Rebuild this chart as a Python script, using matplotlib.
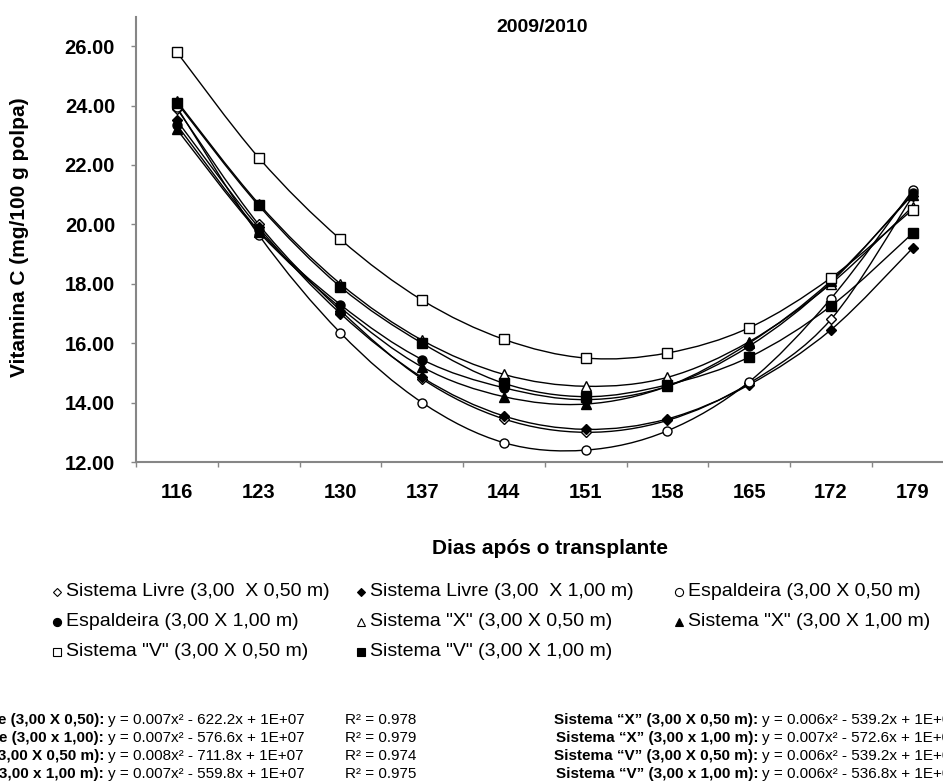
import matplotlib

matplotlib.use("Agg")
import matplotlib.pyplot as plt
import numpy as np
from matplotlib.lines import Line2D
from matplotlib.patches import PathPatch
from matplotlib.path import Path

plt.rcParams["font.family"] = ["Liberation Sans", "DejaVu Sans"]

W, H = 943, 784

# days after transplanting
DAYS = [116, 123, 130, 137, 144, 151, 158, 165, 172, 179]

# vitamin C (mg/100 g pulp) per training system
LIVRE_050 = [23.90, 20.00, 17.10, 14.80, 13.45, 13.00, 13.40, 14.65, 16.80, 20.95]
LIVRE_100 = [23.50, 19.90, 17.00, 14.85, 13.55, 13.10, 13.45, 14.60, 16.45, 19.20]
ESPALD_050 = [23.95, 19.65, 16.35, 14.00, 12.65, 12.40, 13.05, 14.70, 17.50, 21.15]
ESPALD_100 = [23.35, 19.80, 17.30, 15.45, 14.50, 14.10, 14.55, 15.90, 18.05, 21.05]
X_050 = [24.15, 20.70, 18.00, 16.10, 14.95, 14.55, 14.85, 16.05, 18.00, 20.60]
X_100 = [23.20, 19.75, 17.20, 15.20, 14.20, 13.95, 14.55, 16.00, 18.10, 21.00]
V_050 = [25.80, 22.25, 19.50, 17.45, 16.13, 15.50, 15.67, 16.52, 18.20, 20.50]
V_100 = [24.10, 20.64, 17.90, 16.00, 14.65, 14.20, 14.60, 15.53, 17.25, 19.70]

LABELS = [
    "Sistema Livre (3,00  X 0,50 m)",
    "Sistema Livre (3,00  X 1,00 m)",
    "Espaldeira (3,00 X 0,50 m)",
    "Espaldeira (3,00 X 1,00 m)",
    'Sistema "X" (3,00 X 0,50 m)',
    'Sistema "X" (3,00 X 1,00 m)',
    'Sistema "V" (3,00 X 0,50 m)',
    'Sistema "V" (3,00 X 1,00 m)',
]
VALUES = [LIVRE_050, LIVRE_100, ESPALD_050, ESPALD_100, X_050, X_100, V_050, V_100]

# marker, face colour, size
STYLES = [
    ("D", "white", 5.0),
    ("D", "black", 5.0),
    ("o", "white", 6.5),
    ("o", "black", 6.5),
    ("^", "white", 7.0),
    ("^", "black", 7.0),
    ("s", "white", 6.5),
    ("s", "black", 6.5),
]

# fitted equations printed under the chart
EQ_LEFT_NAMES = [
    "Sistema Livre (3,00 X 0,50):",
    "Sistema Livre (3,00 x 1,00):",
    "Espaldeira (3,00 X 0,50 m):",
    "Espaldeira (3,00 x 1,00 m):",
]
EQ_LEFT_FITS = [
    "y = 0.007x² - 622.2x + 1E+07",
    "y = 0.007x² - 576.6x + 1E+07",
    "y = 0.008x² - 711.8x + 1E+07",
    "y = 0.007x² - 559.8x + 1E+07",
]
EQ_LEFT_R2 = ["R² = 0.978", "R² = 0.979", "R² = 0.974", "R² = 0.975"]
EQ_RIGHT_NAMES = [
    "Sistema \u201cX\u201d (3,00 X 0,50 m):",
    "Sistema \u201cX\u201d (3,00 x 1,00 m):",
    "Sistema \u201cV\u201d (3,00 X 0,50 m):",
    "Sistema \u201cV\u201d (3,00 x 1,00 m):",
]
EQ_RIGHT_FITS = [
    "y = 0.006x² - 539.2x + 1E+07",
    "y = 0.007x² - 572.6x + 1E+07",
    "y = 0.006x² - 539.2x + 1E+07",
    "y = 0.006x² - 536.8x + 1E+07",
]


def fx(px):
    return px / W


def fy(py):
    return 1 - py / H


def smooth_path(xs, ys):
    # cubic Bezier segments through every point (Catmull-Rom tangents)
    pts = np.column_stack([xs, ys]).astype(float)
    n = len(pts)
    verts = [pts[0]]
    codes = [Path.MOVETO]
    for i in range(n - 1):
        p0 = pts[i - 1] if i > 0 else pts[i]
        p1 = pts[i]
        p2 = pts[i + 1]
        p3 = pts[i + 2] if i + 2 < n else pts[i + 1]
        verts += [p1 + (p2 - p0) / 6, p2 - (p3 - p1) / 6, p2]
        codes += [Path.CURVE4] * 3
    return Path(verts, codes)


fig = plt.figure(figsize=(W / 100, H / 100), dpi=100)
ax = fig.add_axes([fx(136), fy(462), fx(817.5), (462 - 16.5) / H])

xpos = np.arange(len(DAYS))
for k, (vals, (mk, face, ms)) in enumerate(zip(VALUES, STYLES)):
    ax.add_patch(PathPatch(smooth_path(xpos, vals), fill=False, edgecolor="black",
                           linewidth=1.0, zorder=2 + 2 * k))
    ax.plot(xpos, vals, linestyle="none", marker=mk, markersize=ms,
            markerfacecolor=face, markeredgecolor="black", markeredgewidth=1.0,
            zorder=3 + 2 * k)

ax.set_xlim(-0.5, len(DAYS) - 0.5)
ax.set_ylim(12, 27)

ax.set_yticks(np.arange(12, 27, 2))
ax.set_yticklabels([f"{v:.2f}" for v in np.arange(12, 27, 2)], fontweight="bold", fontsize=14.5)
ax.set_xticks(np.arange(-0.5, len(DAYS)), labels=[""] * (len(DAYS) + 1))
ax.set_xticks(xpos, labels=[str(d) for d in DAYS], minor=True)
for lab in ax.get_xticklabels(minor=True):
    lab.set_fontweight("bold")
    lab.set_fontsize(14.5)

ax.tick_params(axis="x", which="major", length=3.6, width=1, color="#868686")
ax.tick_params(axis="x", which="minor", length=0, pad=15)
ax.tick_params(axis="y", length=3.6, width=1, color="#868686", pad=11.5)
for side in ("top", "right"):
    ax.spines[side].set_visible(False)
for side in ("left", "bottom"):
    ax.spines[side].set_color("#868686")
    ax.spines[side].set_linewidth(1.5)

fig.text(fx(542), fy(27), "2009/2010", fontsize=14, fontweight="bold", ha="center", va="center")
fig.text(fx(20), fy(237), "Vitamina C (mg/100 g polpa)", fontsize=15, fontweight="bold",
         rotation=90, ha="center", va="center")
fig.text(fx(550), fy(549), "Dias após o transplante", fontsize=15, fontweight="bold",
         ha="center", va="center")

# legend laid out row by row
col_x = [57, 361, 679]
row_y = [592, 622, 652]
for k, (label, (mk, face, ms)) in enumerate(zip(LABELS, STYLES)):
    x0, y0 = col_x[k % 3], row_y[k // 3]
    fig.add_artist(Line2D([fx(x0)], [fy(y0)], transform=fig.transFigure, linestyle="none",
                          marker=mk, markersize=ms * 0.9, markerfacecolor=face,
                          markeredgecolor="black", markeredgewidth=0.8))
    fig.text(fx(x0 + 9), fy(y0), label, fontsize=14, ha="left", va="center")

eq_y = [724, 742, 760, 778]
for name, fit, r2, y0 in zip(EQ_LEFT_NAMES, EQ_LEFT_FITS, EQ_LEFT_R2, eq_y):
    fig.text(fx(104), fy(y0), name, fontsize=11, fontweight="bold", ha="right", va="baseline")
    fig.text(fx(108), fy(y0), fit, fontsize=11, ha="left", va="baseline")
    fig.text(fx(345), fy(y0), r2, fontsize=11, ha="left", va="baseline")
for name, fit, y0 in zip(EQ_RIGHT_NAMES, EQ_RIGHT_FITS, eq_y):
    fig.text(fx(758), fy(y0), name, fontsize=11, fontweight="bold", ha="right", va="baseline")
    fig.text(fx(762), fy(y0), fit, fontsize=11, ha="left", va="baseline")

fig.savefig("out.png", dpi=100, facecolor="white")
